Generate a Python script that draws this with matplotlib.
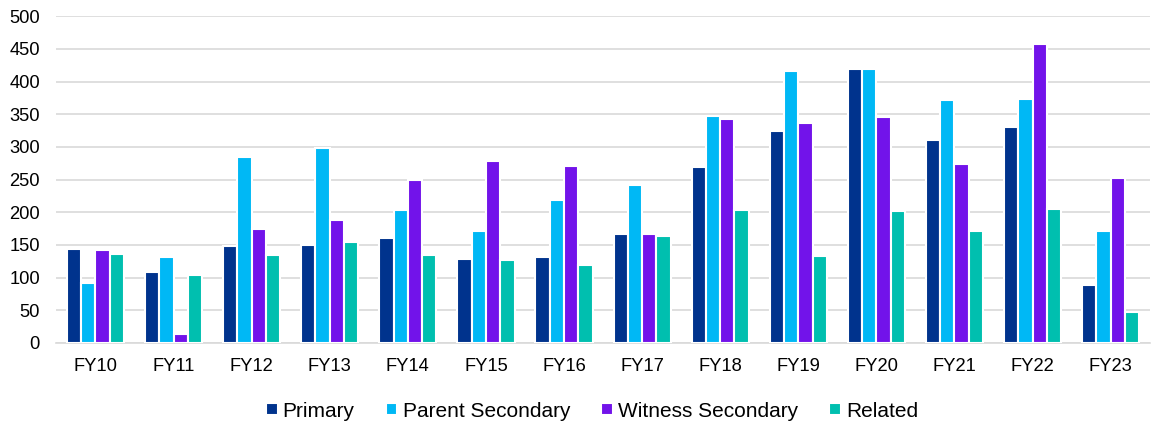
import numpy as np
import matplotlib
matplotlib.use("Agg")
import matplotlib.pyplot as plt

plt.rcParams['font.family'] = ['Liberation Sans', 'DejaVu Sans']

years = ['FY10', 'FY11', 'FY12', 'FY13', 'FY14', 'FY15', 'FY16',
         'FY17', 'FY18', 'FY19', 'FY20', 'FY21', 'FY22', 'FY23']
primary = [143, 108, 148, 150, 160, 129, 132, 167, 269, 324, 419, 310, 331, 89]
parent_secondary = [92, 132, 284, 298, 204, 172, 218, 241, 347, 416, 419, 372, 373, 171]
witness_secondary = [142, 13, 174, 188, 250, 279, 270, 167, 343, 336, 345, 274, 458, 252]
related = [136, 104, 135, 154, 135, 127, 119, 163, 203, 133, 202, 172, 205, 47]

series = [
    ('Primary', primary, '#00338D'),
    ('Parent Secondary', parent_secondary, '#00B8F5'),
    ('Witness Secondary', witness_secondary, '#7213EA'),
    ('Related', related, '#00BFAF'),
]

fig = plt.figure(figsize=(11.52, 4.26), dpi=100)
ax = fig.add_axes([0.049, 0.195, 0.949, 0.767])

x = np.arange(len(years))
pitch = 0.183
for i, (name, vals, col) in enumerate(series):
    ax.bar(x + (i - 1.5) * pitch, vals, width=pitch, color=col,
           edgecolor='white', linewidth=1.5, label=name, zorder=3)

ax.set_xlim(-0.5, len(years) - 0.5)
ax.set_ylim(0, 500)
ax.set_yticks(range(0, 501, 50))
ax.set_xticks(x)
ax.set_xticklabels(years)
ax.tick_params(axis='both', length=0, labelsize=13.2, colors='#000000')
ax.tick_params(axis='x', pad=11)
ax.tick_params(axis='y', pad=12)
ax.grid(axis='y', color='#D9D9D9', linewidth=1.2, zorder=0)
for s in ['top', 'right', 'left']:
    ax.spines[s].set_visible(False)
ax.spines['bottom'].set_color('#D9D9D9')
ax.spines['bottom'].set_linewidth(1.2)

fig.legend(loc='center', bbox_to_anchor=(0.514, 0.035), ncol=4, frameon=False,
           fontsize=15, handlelength=0.55, handleheight=0.55, handletextpad=0.25,
           columnspacing=1.5)

fig.savefig('out.png', dpi=100)
